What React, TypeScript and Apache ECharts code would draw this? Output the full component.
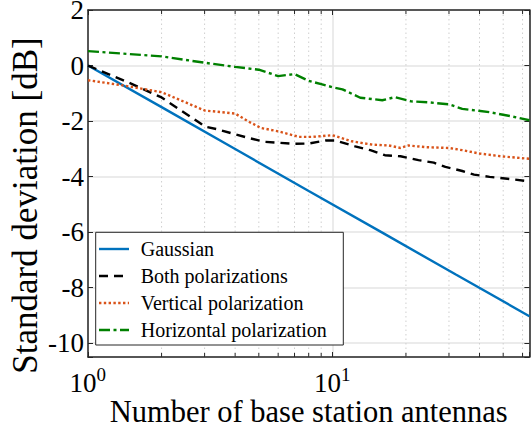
import React, { useEffect, useRef } from "react";
import * as echarts from "echarts";

// ---- data ----
const seriesNames = [
  "Gaussian",
  "Both polarizations",
  "Vertical polarization",
  "Horizontal polarization",
];

const gaussN = [1, 2, 4, 8, 16, 32, 64];
const gaussV = [0, -1.5, -3.01, -4.52, -6.02, -7.53, -9.03];

const bothN = [1, 1.5, 2, 2.9, 3, 3.4, 3.9, 4.5, 5.3, 7, 8, 9.4, 10.3, 12.4, 14.3, 16.4, 19, 22.5, 26, 29, 34, 38, 44, 52, 64];
const bothV = [0, -0.65, -1.15, -2.1, -2.2, -2.3, -2.45, -2.6, -2.75, -2.82, -2.81, -2.7, -2.7, -2.91, -3.05, -3.23, -3.27, -3.41, -3.5, -3.65, -3.8, -3.93, -4.01, -4.08, -4.17];

const vertN = [1, 1.4, 2, 3, 4, 4.5, 5.1, 6, 7.3, 8.3, 10, 12, 14.6, 17, 19, 20.5, 24, 30, 34, 40, 49, 64];
const vertV = [-0.53, -0.72, -0.96, -1.62, -1.73, -2.0, -2.25, -2.37, -2.57, -2.57, -2.51, -2.73, -2.85, -2.88, -2.97, -2.88, -2.94, -2.97, -3.05, -3.17, -3.27, -3.36];

const horN = [1, 2, 3, 4, 5, 6, 7, 8, 9, 10, 11, 13, 16, 18, 21, 25, 30, 34, 44, 54, 64];
const horV = [0.52, 0.33, 0.1, -0.05, -0.15, -0.38, -0.31, -0.55, -0.67, -0.78, -0.86, -1.16, -1.25, -1.14, -1.29, -1.33, -1.4, -1.56, -1.68, -1.83, -1.97];

const minorTickN = [2, 3, 4, 5, 6, 7, 8, 9, 20, 30, 40, 50, 60];
const xTickValues = [1, 10];
const yTickLabels = [-10, -8, -6, -4, -2, 0, 2];

const seriesColors = ["#0072BD", "#000000", "#D95319", "#008000"];
const seriesDashes: (number[] | null)[] = [null, [9, 6], [2.4, 2.4], [11, 3.5, 3, 3.5]];

const FONT = "serif";
const GFONT = "Liberation Serif";
const AXIS = "#262626";
const GRID = "#e4e4e4";
const Y_MIN = -10.5;

const zip = (a: number[], b: number[]) => a.map((v, i) => [v, b[i]]);

const textStyle = (text: string, size: number, align: string, vAlign: string) => ({
  text,
  fontFamily: GFONT,
  fontSize: size,
  fill: "#000",
  align,
  verticalAlign: vAlign,
  textAlign: align,
  textVerticalAlign: vAlign,
});

export default function App() {
  const ref = useRef<HTMLDivElement>(null);

  useEffect(() => {
    if (!ref.current) return;
    const chart = echarts.init(ref.current, null, { renderer: "svg" });

    const lineSeries = (i: number, n: number[], v: number[]) => ({
      type: "line",
      name: seriesNames[i],
      data: zip(n, v),
      symbol: "none",
      showSymbol: false,
      z: 3,
      lineStyle: { color: seriesColors[i], width: 2.4, type: seriesDashes[i] || "solid" },
      itemStyle: { color: seriesColors[i] },
    });

    // legend drawn as a boxed graphic group
    const legendEls: any[] = [
      {
        type: "rect",
        z: 20,
        silent: true,
        shape: { x: 95.7, y: 232.3, width: 247.6, height: 112.7 },
        style: { fill: "#ffffff", stroke: AXIS, lineWidth: 1 },
      },
    ];
    seriesNames.forEach((name, i) => {
      const ry = 249 + i * 27;
      const ls: any = { stroke: seriesColors[i], lineWidth: 2.4 };
      if (seriesDashes[i]) ls.lineDash = seriesDashes[i];
      legendEls.push({ type: "line", z: 21, silent: true, shape: { x1: 99, y1: ry, x2: 129, y2: ry }, style: ls });
      legendEls.push({ type: "text", z: 21, silent: true, x: 140.7, y: ry, style: textStyle(name, 20, "left", "middle") });
    });

    const axisCommon = {
      axisLine: { show: true, onZero: false, lineStyle: { color: AXIS, width: 1.5 } },
      axisTick: { show: true, inside: true, length: 5, lineStyle: { color: AXIS, width: 1 } },
    };

    const option: any = {
      animation: false,
      backgroundColor: "#ffffff",
      textStyle: { fontFamily: FONT },
      grid: { left: 82, top: 10, right: 2.6, bottom: 74.6 },
      graphic: { elements: legendEls },
      xAxis: [
        {
          type: "log",
          logBase: 10,
          min: 1,
          max: 64,
          name: "Number of base station antennas",
          nameLocation: "middle",
          nameGap: 39,
          nameMoveOverlap: false,
          nameTextStyle: { fontFamily: FONT, fontSize: 30.5, color: "#000" },
          ...axisCommon,
          axisLabel: { show: false },
          splitLine: { show: true, lineStyle: { color: GRID, width: 1.5 } },
        },
        {
          type: "log",
          logBase: 10,
          min: 1,
          max: 64,
          position: "top",
          ...axisCommon,
          axisLabel: { show: false },
          splitLine: { show: false },
        },
      ],
      yAxis: [
        {
          type: "value",
          min: Y_MIN,
          max: 2,
          splitNumber: 6,
          name: "Standard deviation [dB]",
          nameLocation: "middle",
          nameGap: 45,
          nameMoveOverlap: false,
          nameTextStyle: { fontFamily: FONT, fontSize: 35, color: "#000", padding: [0, 44, 0, 0] },
          ...axisCommon,
          axisLabel: { show: false },
          splitLine: { show: true, lineStyle: { color: GRID, width: 1.5 } },
        },
        {
          type: "value",
          min: Y_MIN,
          max: 2,
          splitNumber: 6,
          position: "right",
          ...axisCommon,
          axisLabel: { show: false },
          splitLine: { show: false },
        },
      ],
      series: [
        {
          type: "custom",
          name: "minor-grid",
          silent: true,
          z: 1,
          clip: false,
          data: minorTickN.map((n) => [n, 0]),
          encode: { x: 0, y: 1 },
          renderItem: (params: any, api: any) => {
            const x = api.coord([api.value(0), 0])[0];
            const cs = params.coordSys;
            const top = cs.y;
            const bottom = cs.y + cs.height;
            return {
              type: "group",
              children: [
                { type: "line", shape: { x1: x, y1: top, x2: x, y2: bottom }, style: { stroke: "#cfcfcf", lineWidth: 1, lineDash: [1.5, 3] } },
                { type: "line", shape: { x1: x, y1: bottom, x2: x, y2: bottom - 4 }, style: { stroke: AXIS, lineWidth: 1 } },
                { type: "line", shape: { x1: x, y1: top, x2: x, y2: top + 4 }, style: { stroke: AXIS, lineWidth: 1 } },
              ],
            };
          },
        },
        {
          // y tick labels, placed through the y axis scale
          type: "custom",
          name: "y-tick-labels",
          silent: true,
          z: 5,
          clip: false,
          data: yTickLabels.map((v) => [1, v]),
          encode: { x: 0, y: 1 },
          renderItem: (params: any, api: any) => {
            const p = api.coord([api.value(0), api.value(1)]);
            return {
              type: "text",
              x: p[0] - 4,
              y: p[1],
              style: textStyle(String(api.value(1)), 27, "right", "middle"),
            };
          },
        },
        {
          // x tick labels 10^k, placed through the log axis scale
          type: "custom",
          name: "x-tick-labels",
          silent: true,
          z: 5,
          clip: false,
          data: xTickValues.map((v) => [v, Y_MIN]),
          encode: { x: 0, y: 1 },
          renderItem: (params: any, api: any) => {
            const v = api.value(0);
            const p = api.coord([v, api.value(1)]);
            const e = Math.round(Math.log10(v));
            return {
              type: "group",
              children: [
                { type: "text", x: p[0] + 8.5, y: p[1] + 25.5, style: textStyle("10", 27, "right", "middle") },
                { type: "text", x: p[0] + 8.5, y: p[1] + 17, style: textStyle(String(e), 19, "left", "middle") },
              ],
            };
          },
        },
        lineSeries(0, gaussN, gaussV),
        lineSeries(1, bothN, bothV),
        lineSeries(2, vertN, vertV),
        lineSeries(3, horN, horV),
      ],
    };

    chart.setOption(option);
    return () => chart.dispose();
  }, []);

  return (
    <div
      ref={ref}
      style={{ position: "fixed", left: 0, top: 0, width: 532, height: 432, background: "#fff" }}
    />
  );
}
